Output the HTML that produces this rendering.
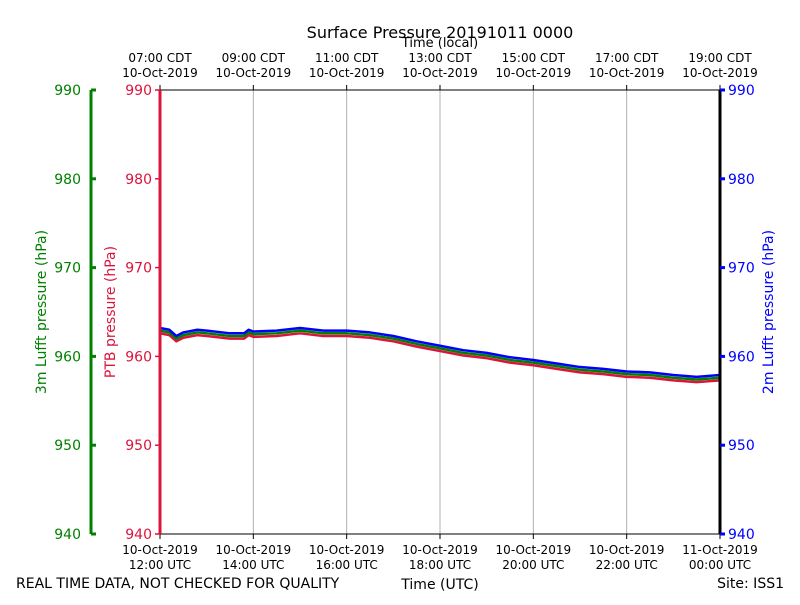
<!DOCTYPE html>
<html><head><meta charset="utf-8"><style>body{margin:0;background:#fff}svg{font-family:"DejaVu Sans","Liberation Sans",sans-serif}</style></head>
<body>
<svg id="chart" width="800" height="600">
<rect width="800" height="600" fill="#fff"/>
<g id="g"></g>
</svg>
<script>
const hours=[0,0.2,0.35,0.5,0.8,1,1.5,1.8,1.9,2,2.5,3,3.5,4,4.5,5,5.5,6,6.5,7,7.5,8,8.5,9,9.5,10,10.5,11,11.5,12];
const ptb=[962.6,962.4,961.7,962.1,962.4,962.3,962.0,962.0,962.4,962.2,962.3,962.6,962.3,962.3,962.1,961.7,961.1,960.6,960.1,959.8,959.3,959.0,958.6,958.2,958.0,957.7,957.6,957.3,957.1,957.3];
const lufft3m=[962.9,962.7,962.0,962.4,962.7,962.6,962.3,962.3,962.7,962.5,962.6,962.9,962.6,962.6,962.4,962.0,961.4,960.9,960.4,960.1,959.6,959.3,958.9,958.5,958.3,958.0,957.9,957.6,957.4,957.6];
const lufft2m=[963.2,963.0,962.3,962.7,963.0,962.9,962.6,962.6,963.0,962.8,962.9,963.2,962.9,962.9,962.7,962.3,961.7,961.2,960.7,960.4,959.9,959.6,959.2,958.8,958.6,958.3,958.2,957.9,957.7,957.9];
const yTicks=[940,950,960,970,980,990];
const utcLabels=["12:00 UTC","14:00 UTC","16:00 UTC","18:00 UTC","20:00 UTC","22:00 UTC","00:00 UTC"];
const utcDates=["10-Oct-2019","10-Oct-2019","10-Oct-2019","10-Oct-2019","10-Oct-2019","10-Oct-2019","11-Oct-2019"];
const cdtLabels=["07:00 CDT","09:00 CDT","11:00 CDT","13:00 CDT","15:00 CDT","17:00 CDT","19:00 CDT"];
const L=160,R=720,T=90,B=534;
const x=h=>L+h/12*(R-L);
const y=v=>B-(v-940)/50*(B-T);
const g=document.getElementById('g');const NS='http://www.w3.org/2000/svg';
function el(t,a,txt){const e=document.createElementNS(NS,t);for(const k in a)e.setAttribute(k,a[k]);if(txt!==undefined)e.textContent=txt;g.appendChild(e);return e;}
// grid
utcLabels.forEach((l,i)=>{const xx=x(i*2);
 if(i>0&&i<6){const gl=el('line',{x1:xx,x2:xx,y1:T,y2:B,stroke:'#b0b0b0','stroke-width':1});
 }
 el('line',{x1:xx,x2:xx,y1:B,y2:B+5,stroke:'#000'});
 el('line',{x1:xx,x2:xx,y1:T,y2:T-5,stroke:'#000'});
 const a=el('text',{x:xx,y:554,'font-size':12,'text-anchor':'middle'},utcDates[i]);
 
 const b=el('text',{x:xx,y:569,'font-size':12,'text-anchor':'middle'},l);
 
 const c=el('text',{x:xx,y:62,'font-size':12,'text-anchor':'middle'},cdtLabels[i]);
 
 const d=el('text',{x:xx,y:77,'font-size':12,'text-anchor':'middle'},"10-Oct-2019");
 
});
// series
function series(arr,col,name){const p=el('polyline',{points:hours.map((h,i)=>x(h)+','+y(arr[i])).join(' '),fill:'none',stroke:col,'stroke-width':2.5,'stroke-linejoin':'round'});
 }
series(ptb,'#dc143c','ptb-pressure-line');
series(lufft3m,'#008000','lufft-3m-line');
series(lufft2m,'#0000ff','lufft-2m-line');
// frame
el('line',{x1:L,x2:R,y1:T,y2:T,stroke:'#000'});
el('line',{x1:L,x2:R,y1:B,y2:B,stroke:'#000'});
el('line',{x1:L,x2:L,y1:T,y2:B,stroke:'#dc143c','stroke-width':3});
el('line',{x1:R,x2:R,y1:T,y2:B,stroke:'#000','stroke-width':3});
el('line',{x1:91,x2:91,y1:T,y2:B,stroke:'#008000','stroke-width':3});
yTicks.forEach(v=>{const yy=y(v);
 el('line',{x1:L-5,x2:L,y1:yy,y2:yy,stroke:'#dc143c','stroke-width':1.5});
 el('line',{x1:R,x2:R+5,y1:yy,y2:yy,stroke:'#0000ff','stroke-width':3});
 el('line',{x1:91,x2:96,y1:yy,y2:yy,stroke:'#008000','stroke-width':3});
 const a=el('text',{x:L-8,y:yy+5,'font-size':14,'text-anchor':'end',fill:'#dc143c'},v);
 
 const b=el('text',{x:R+8,y:yy+5,'font-size':14,fill:'#0000ff'},v);
 
 const c=el('text',{x:81,y:yy+5,'font-size':14,'text-anchor':'end',fill:'#008000'},v);
 
});
</script>
<svg style="position:absolute;left:0;top:0" width="800" height="600">
<text x="440" y="38" font-size="16" text-anchor="middle">Surface Pressure 20191011 0000</text>
<text x="440" y="47" font-size="13" text-anchor="middle">Time (local)</text>
<text x="440" y="589" font-size="14" text-anchor="middle">Time (UTC)</text>
<text x="16" y="588" font-size="14">REAL TIME DATA, NOT CHECKED FOR QUALITY</text>
<text x="784" y="588" font-size="14" text-anchor="end">Site: ISS1</text>
<text transform="translate(46,312) rotate(-90)" font-size="14" text-anchor="middle" fill="#008000">3m Lufft pressure (hPa)</text>
<text transform="translate(115,312) rotate(-90)" font-size="14" text-anchor="middle" fill="#dc143c">PTB pressure (hPa)</text>
<text transform="translate(773,312) rotate(-90)" font-size="14" text-anchor="middle" fill="#0000ff">2m Lufft pressure (hPa)</text>
</svg>
</body></html>
